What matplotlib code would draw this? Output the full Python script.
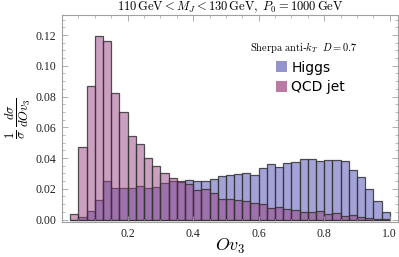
import numpy as np
import matplotlib

matplotlib.use("Agg")
import matplotlib.pyplot as plt  # noqa: E402
from matplotlib.patches import Patch  # noqa: E402
from matplotlib.ticker import MultipleLocator  # noqa: E402

plt.rcParams["mathtext.fontset"] = "cm"

# bins of Ov3, width 0.025
bin_edges = np.arange(0.025, 1.0001, 0.025)

higgs = [
    0.0, 0.0014, 0.0055, 0.013, 0.0248, 0.0203, 0.0205, 0.0205, 0.0218, 0.0203,
    0.021, 0.0235, 0.0252, 0.0245, 0.0255, 0.0252, 0.0252, 0.0265, 0.0285, 0.029,
    0.0296, 0.0305, 0.0292, 0.0332, 0.0361, 0.034, 0.0365, 0.0372, 0.0391, 0.0391,
    0.038, 0.0387, 0.039, 0.0383, 0.0322, 0.0278, 0.0196, 0.012, 0.0047,
]
qcd = [
    0.0034, 0.047, 0.0866, 0.1193, 0.116, 0.0825, 0.070, 0.0543, 0.049, 0.0398,
    0.0348, 0.0305, 0.0268, 0.0252, 0.023, 0.0192, 0.0196, 0.017, 0.0136, 0.0131,
    0.0124, 0.0118, 0.0107, 0.0099, 0.0077, 0.0079, 0.0071, 0.006, 0.0049, 0.0052,
    0.0055, 0.0034, 0.004, 0.0023, 0.0029, 0.0018, 0.0008, 0.0004, 0.0001,
]

higgs_color = (0.40, 0.40, 0.75, 0.6)
qcd_color = (0.60, 0.25, 0.50, 0.5)
edge = (0.2, 0.2, 0.2, 0.85)
frame = "#a0a0a0"

fig = plt.figure(figsize=(3.99, 2.57), dpi=100)
ax = fig.add_axes([0.1554, 0.1362, 0.8421, 0.8054])

left = bin_edges[:-1]
ax.bar(left, higgs, width=0.025, align="edge", color=higgs_color,
       edgecolor=edge, linewidth=0.9)
ax.bar(left, qcd, width=0.025, align="edge", color=qcd_color,
       edgecolor=edge, linewidth=0.9)

ax.set_xlim(0.0, 1.025)
ax.set_ylim(-0.0016, 0.133)

ax.xaxis.set_minor_locator(MultipleLocator(0.05))
ax.yaxis.set_minor_locator(MultipleLocator(0.005))
ax.set_xticks([0.2, 0.4, 0.6, 0.8, 1.0])
ax.set_xticklabels(["0.2", "0.4", "0.6", "0.8", "1.0"])
yt = np.arange(0, 0.121, 0.02)
ax.set_yticks(yt)
ax.set_yticklabels([f"{v:.2f}" for v in yt])

ax.tick_params(which="both", direction="in", top=True, right=True,
               color=frame, labelsize=8.5, labelcolor="#222222")
ax.tick_params(which="major", length=4, width=0.6, pad=4)
ax.tick_params(which="minor", length=2, width=0.5)
for lab in ax.get_xticklabels() + ax.get_yticklabels():
    lab.set_family("Liberation Serif")
for sp in ax.spines.values():
    sp.set_color(frame)
    sp.set_linewidth(0.8)

ax.set_title(r"$110\,\mathrm{GeV} < M_J < 130\,\mathrm{GeV},\ P_0 = 1000\,\mathrm{GeV}$",
             fontsize=9, pad=3)
ax.set_xlabel(r"$Ov_3$", fontsize=13, labelpad=-2)
ax.set_ylabel(r"$\frac{1}{\sigma}\,\frac{d\sigma}{dOv_3}$", fontsize=13, labelpad=2)

ax.text(0.719, 0.845, r"$\mathrm{Sherpa\ anti}$-$k_T\ \ D = 0.7$",
        transform=ax.transAxes, ha="center", va="center", fontsize=7.5)

handles = [
    Patch(facecolor=(0.58, 0.58, 0.80), edgecolor="none", label="Higgs"),
    Patch(facecolor=(0.73, 0.48, 0.64), edgecolor="none", label="QCD jet"),
]
ax.legend(handles=handles, loc="upper left", bbox_to_anchor=(0.637, 0.78),
          frameon=False, fontsize=10, handlelength=0.8, handleheight=0.85,
          handletextpad=0.3, labelspacing=0.4, borderpad=0, borderaxespad=0)

fig.savefig("out.png", dpi=100)
